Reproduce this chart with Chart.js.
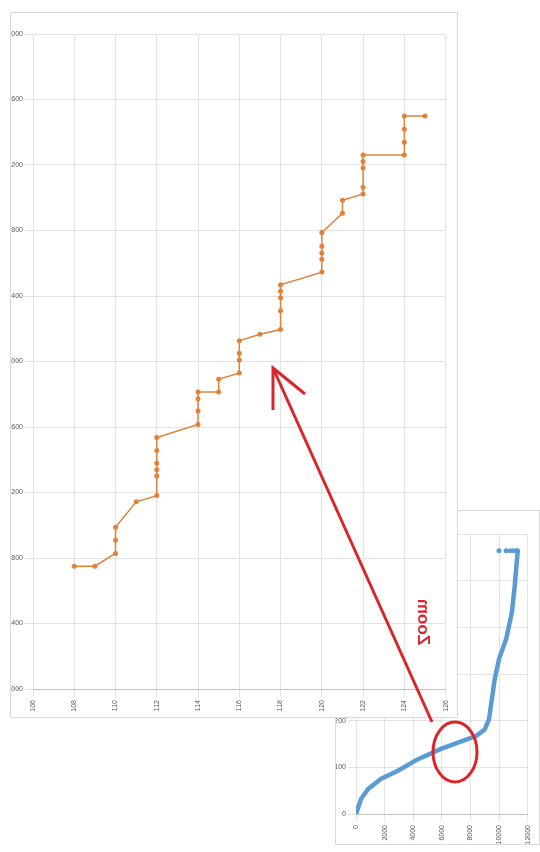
<!DOCTYPE html>
<html>
<head>
<meta charset="utf-8">
<script src="https://cdn.jsdelivr.net/npm/chart.js@4"></script>
<style>
  body { margin: 0; background: #fff; width: 540px; height: 852px; position: relative; overflow: hidden; font-family: "Liberation Sans", sans-serif; }
  .box { position: absolute; background: #fff; border: 1px solid #d9d9d9; box-sizing: border-box; }
  #mainBox { left: 10px; top: 12px; width: 448px; height: 706px; z-index: 2; }
  #insetBox { left: 335px; top: 510px; width: 205px; height: 335px; z-index: 1; }
  #overlay { position: absolute; left: 0; top: 0; z-index: 3; pointer-events: none; }
</style>
</head>
<body>
<div id="mainBox" class="box"><canvas id="mainChart"></canvas></div>
<div id="insetBox" class="box"><canvas id="insetChart"></canvas></div>
<canvas id="overlay" width="540" height="852"></canvas>
<script>
// zoomed section (orange)
const zoomX = [108, 109, 110, 110, 110, 111, 112, 112, 112, 112, 112, 112, 114, 114, 114, 114, 115, 115,
  116, 116, 116, 116, 117, 118, 118, 118, 118, 118, 120, 120, 120, 120, 120, 121, 121, 122, 122, 122, 122, 122, 124, 124, 124, 124, 125];
const zoomY = [4750, 4750, 4828, 4909, 4988, 5143, 5181, 5301, 5339, 5378, 5457, 5536, 5615, 5697, 5773, 5814, 5814, 5891,
  5930, 6009, 6050, 6127, 6166, 6195, 6310, 6390, 6429, 6469, 6546, 6624, 6663, 6704, 6788, 6905, 6985, 7023, 7064, 7181, 7222, 7261, 7261, 7339, 7419, 7499, 7499];

// full curve (blue)
const fullVal = [0, 350, 830, 1730, 2900, 4300, 5900, 7500, 8400, 9000, 9300, 9500, 9700, 10000, 10500, 10900, 11100, 11300, 11300];
const fullIdx = [0, 32, 53, 75, 92, 117, 139, 157, 167, 181, 203, 246, 289, 332, 375, 432, 489, 561, 564];
const tailVal = [10000, 10500, 10800, 11000, 11200, 11300];
const tailIdx = [564, 564, 564, 564, 564, 564];

const orange = "#e0823a";
const blue = "#5b9bd5";
const grid = "#e3e3e3";
const tickFont = { size: 7, family: "Liberation Sans" };
const plain = (v) => String(v);

function pts(xs, ys) {
  return xs.map((x, i) => ({ x: x, y: ys[i] }));
}

Chart.defaults.animation = false;
Chart.defaults.plugins.legend.display = false;
Chart.defaults.plugins.tooltip.enabled = false;

new Chart(document.getElementById("mainChart"), {
  type: "scatter",
  data: {
    datasets: [{
      data: pts(zoomX, zoomY),
      showLine: true,
      borderColor: orange,
      backgroundColor: orange,
      borderWidth: 1.5,
      pointRadius: 2.5,
      pointBorderWidth: 0,
    }],
  },
  options: {
    responsive: true,
    maintainAspectRatio: false,
    layout: { padding: { left: 0, top: 21, right: 11, bottom: 0 } },
    scales: {
      x: {
        min: 106, max: 126,
        ticks: { stepSize: 2, minRotation: 90, maxRotation: 90, font: tickFont, color: "#595959", callback: plain },
        grid: { color: grid },
        border: { color: "#bfbfbf" },
        afterFit: (s) => { s.height = 28; },
      },
      y: {
        min: 4000, max: 8000,
        ticks: { stepSize: 400, font: tickFont, color: "#595959", padding: 2, callback: plain },
        grid: { color: grid },
        border: { display: false },
        afterFit: (s) => { s.width = 22; },
      },
    },
  },
});

new Chart(document.getElementById("insetChart"), {
  type: "scatter",
  data: {
    datasets: [{
      data: pts(fullVal, fullIdx),
      showLine: true,
      borderColor: blue,
      backgroundColor: blue,
      borderWidth: 4.5,
      pointRadius: 0,
    }, {
      data: pts(tailVal, tailIdx),
      borderColor: blue,
      backgroundColor: blue,
      pointRadius: 2.5,
      pointBorderWidth: 0,
    }],
  },
  options: {
    responsive: true,
    maintainAspectRatio: false,
    layout: { padding: { left: 0, top: 23, right: 8, bottom: 0 } },
    scales: {
      x: {
        min: 0, max: 12000,
        ticks: { stepSize: 2000, minRotation: 90, maxRotation: 90, font: tickFont, color: "#595959", callback: plain },
        grid: { color: grid },
        border: { color: "#bfbfbf" },
        afterFit: (s) => { s.height = 30; },
      },
      y: {
        min: 0, max: 600,
        ticks: { stepSize: 100, font: tickFont, color: "#595959", padding: 2, callback: plain },
        grid: { color: grid },
        border: { display: false },
        afterFit: (s) => { s.width = 20; },
      },
    },
  },
});

// red annotation: circle, arrow and label
const ctx = document.getElementById("overlay").getContext("2d");
ctx.strokeStyle = "#d9262b";
ctx.lineWidth = 3;
ctx.beginPath();
ctx.ellipse(455, 752, 22, 30, 0, 0, Math.PI * 2);
ctx.stroke();
ctx.beginPath();
ctx.moveTo(432, 722);
ctx.lineTo(273, 368);
ctx.moveTo(273, 410);
ctx.lineTo(273, 368);
ctx.lineTo(305, 394);
ctx.stroke();
ctx.save();
ctx.translate(423, 622);
ctx.rotate(-Math.PI / 2);
ctx.scale(1, -1);
ctx.fillStyle = "#d9262b";
ctx.font = "bold 17px 'Liberation Sans'";
ctx.textAlign = "center";
ctx.textBaseline = "middle";
ctx.fillText("Zoom", 0, 0);
ctx.restore();
</script>
</body>
</html>
